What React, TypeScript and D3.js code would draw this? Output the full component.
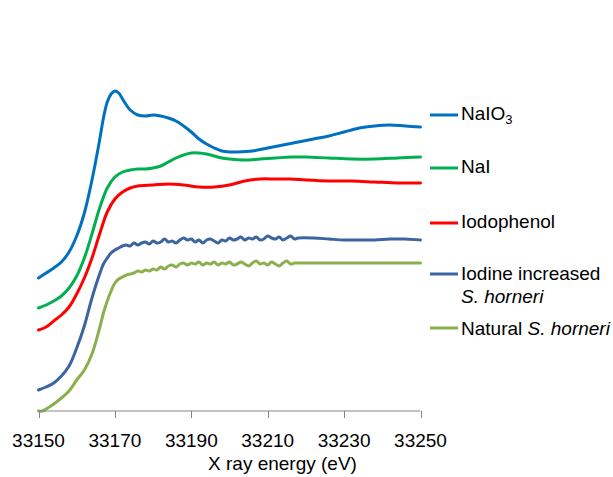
import React from "react";
import * as d3 from "d3";

// X-ray energy (eV) and offset normalized absorbance (a.u.)
const naio3E = [33150,33152,33154,33156,33158,33160,33162,33164,33166,33167,33168,33169,33170,33171,33172,33173,33174,33176,33178,33180,33182,33184,33186,33188,33190,33192,33194,33196,33198,33200,33202,33206,33210,33214,33218,33222,33226,33230,33234,33238,33242,33246,33250];
const naio3V = [1.33,1.38,1.43,1.49,1.59,1.75,1.98,2.31,2.71,2.93,3.09,3.17,3.20,3.18,3.12,3.06,3.01,2.96,2.95,2.96,2.95,2.93,2.90,2.85,2.79,2.72,2.67,2.63,2.60,2.59,2.59,2.60,2.63,2.66,2.69,2.72,2.75,2.79,2.83,2.85,2.86,2.85,2.84];

const naiE = [33150,33152,33154,33156,33158,33160,33162,33164,33166,33168,33170,33172,33174,33176,33178,33180,33182,33184,33186,33188,33190,33192,33194,33196,33198,33200,33204,33208,33212,33216,33220,33226,33232,33238,33244,33250];
const naiV = [1.03,1.06,1.10,1.15,1.23,1.35,1.53,1.77,2.03,2.23,2.34,2.39,2.41,2.42,2.42,2.43,2.45,2.49,2.53,2.56,2.58,2.58,2.57,2.55,2.53,2.52,2.51,2.52,2.53,2.54,2.54,2.53,2.52,2.52,2.53,2.54];

const iodophenolE = [33150,33152,33154,33156,33158,33160,33162,33164,33166,33168,33170,33172,33174,33176,33180,33184,33188,33192,33196,33200,33204,33208,33212,33216,33220,33226,33232,33238,33244,33250];
const iodophenolV = [0.81,0.84,0.90,0.96,1.04,1.17,1.33,1.53,1.77,1.99,2.12,2.19,2.23,2.25,2.26,2.27,2.26,2.24,2.24,2.26,2.30,2.32,2.32,2.32,2.31,2.30,2.30,2.29,2.28,2.28];

const increasedE = [33150,33152,33154,33156,33158,33160,33162,33164,33166,33167,33168,33169,33170,33171,33172,33173,33174,33175,33176,33177,33178,33179,33180,33181,33182,33183,33184,33185,33186,33187,33188,33189,33190,33191,33192,33193,33194,33195,33196,33197,33198,33199,33200,33201,33202,33203,33204,33205,33206,33207,33208,33209,33210,33211,33212,33213,33214,33215,33216,33217,33218,33222,33226,33230,33234,33238,33242,33246,33250];
const increasedV = [0.21,0.24,0.28,0.35,0.45,0.63,0.85,1.13,1.37,1.47,1.53,1.58,1.61,1.63,1.65,1.66,1.65,1.68,1.66,1.68,1.69,1.67,1.70,1.68,1.69,1.72,1.69,1.70,1.68,1.71,1.73,1.71,1.72,1.69,1.71,1.68,1.71,1.72,1.70,1.68,1.71,1.70,1.73,1.71,1.72,1.74,1.71,1.73,1.72,1.74,1.71,1.72,1.75,1.73,1.72,1.74,1.71,1.73,1.75,1.72,1.73,1.73,1.72,1.71,1.71,1.71,1.72,1.72,1.71];

const naturalE = [33150,33151,33152,33154,33156,33158,33160,33162,33164,33166,33167,33168,33169,33170,33171,33172,33173,33174,33175,33176,33177,33178,33179,33180,33181,33182,33183,33184,33185,33186,33187,33188,33189,33190,33191,33192,33193,33194,33195,33196,33197,33198,33199,33200,33201,33202,33203,33204,33205,33206,33207,33208,33209,33210,33211,33212,33213,33214,33215,33216,33217,33218,33222,33226,33230,33234,33238,33242,33246,33250];
const naturalV = [0.00,0.00,0.02,0.07,0.13,0.20,0.31,0.41,0.57,0.83,0.98,1.10,1.20,1.28,1.32,1.34,1.36,1.37,1.38,1.40,1.39,1.41,1.40,1.42,1.41,1.44,1.42,1.45,1.46,1.44,1.47,1.48,1.46,1.48,1.47,1.49,1.46,1.48,1.47,1.49,1.46,1.48,1.47,1.49,1.46,1.47,1.49,1.47,1.45,1.48,1.50,1.47,1.48,1.46,1.49,1.47,1.45,1.48,1.50,1.47,1.48,1.48,1.48,1.48,1.48,1.48,1.48,1.48,1.48,1.48];

const xTicks = [33150, 33170, 33190, 33210, 33230, 33250];
const xTitle = "X ray energy (eV)";

const seriesColors = ["#0070C0", "#00B050", "#FF0000", "#3B64A0", "#8CAF4E"];

const W = 613;
const H = 477;
const FONT = "'Liberation Sans', Arial, sans-serif";

export default function App() {
  const x = d3.scaleLinear().domain([33150, 33250]).range([38.5, 420.5]);
  const y = d3.scaleLinear().domain([0, 3.5]).range([411, 61]);

  const series = [
    { e: naio3E, v: naio3V, w: 3 },
    { e: naiE, v: naiV, w: 3 },
    { e: iodophenolE, v: iodophenolV, w: 3 },
    { e: increasedE, v: increasedV, w: 3 },
    { e: naturalE, v: naturalV, w: 3 },
  ];

  const line = d3
    .line<[number, number]>()
    .x((d) => x(d[0]))
    .y((d) => y(d[1]))
    .curve(d3.curveCatmullRom.alpha(0.5));

  const legendX1 = 430;
  const legendX2 = 458;
  const textX = 461;
  const legendY = [115, 168, 223, 274, 328];

  return (
    <svg
      width={W}
      height={H}
      style={{ position: "absolute", left: 0, top: 0, background: "#fff" }}
      fontFamily={FONT}
    >
      <rect x={0} y={0} width={W} height={H} fill="#fff" />
      {series.map((s, i) => (
        <path
          key={i}
          d={line(s.e.map((e, j) => [e, s.v[j]] as [number, number])) || ""}
          fill="none"
          stroke={seriesColors[i]}
          strokeWidth={s.w}
          strokeLinejoin="round"
          strokeLinecap="round"
        />
      ))}
      {/* x axis */}
      <line x1={x(33150)} x2={x(33250)} y1={411} y2={411} stroke="#868686" strokeWidth={1} />
      {xTicks.map((t) => (
        <g key={t}>
          <line x1={Math.round(x(t)) + 0.5} x2={Math.round(x(t)) + 0.5} y1={411} y2={418} stroke="#868686" strokeWidth={1} />
          <text x={x(t)} y={447} textAnchor="middle" fontSize={19} fill="#000">
            {t}
          </text>
        </g>
      ))}
      <text x={282.5} y={470} textAnchor="middle" fontSize={19} fill="#000">
        {xTitle}
      </text>
      {/* legend */}
      {legendY.map((ly, i) => (
        <line key={i} x1={legendX1} x2={legendX2} y1={ly} y2={ly} stroke={seriesColors[i]} strokeWidth={3} />
      ))}
      <text x={textX} y={120} fontSize={19} fill="#000">
        NaIO<tspan fontSize={13} dy={4}>3</tspan>
      </text>
      <text x={textX} y={173} fontSize={19} fill="#000">NaI</text>
      <text x={textX} y={228} fontSize={19} fill="#000">Iodophenol</text>
      <text x={textX} y={280} fontSize={19} fill="#000">Iodine increased</text>
      <text x={textX} y={303} fontSize={19} fill="#000" fontStyle="italic">S. horneri</text>
      <text x={textX} y={335} fontSize={19} fill="#000">
        Natural <tspan fontStyle="italic">S. horneri</tspan>
      </text>
    </svg>
  );
}
